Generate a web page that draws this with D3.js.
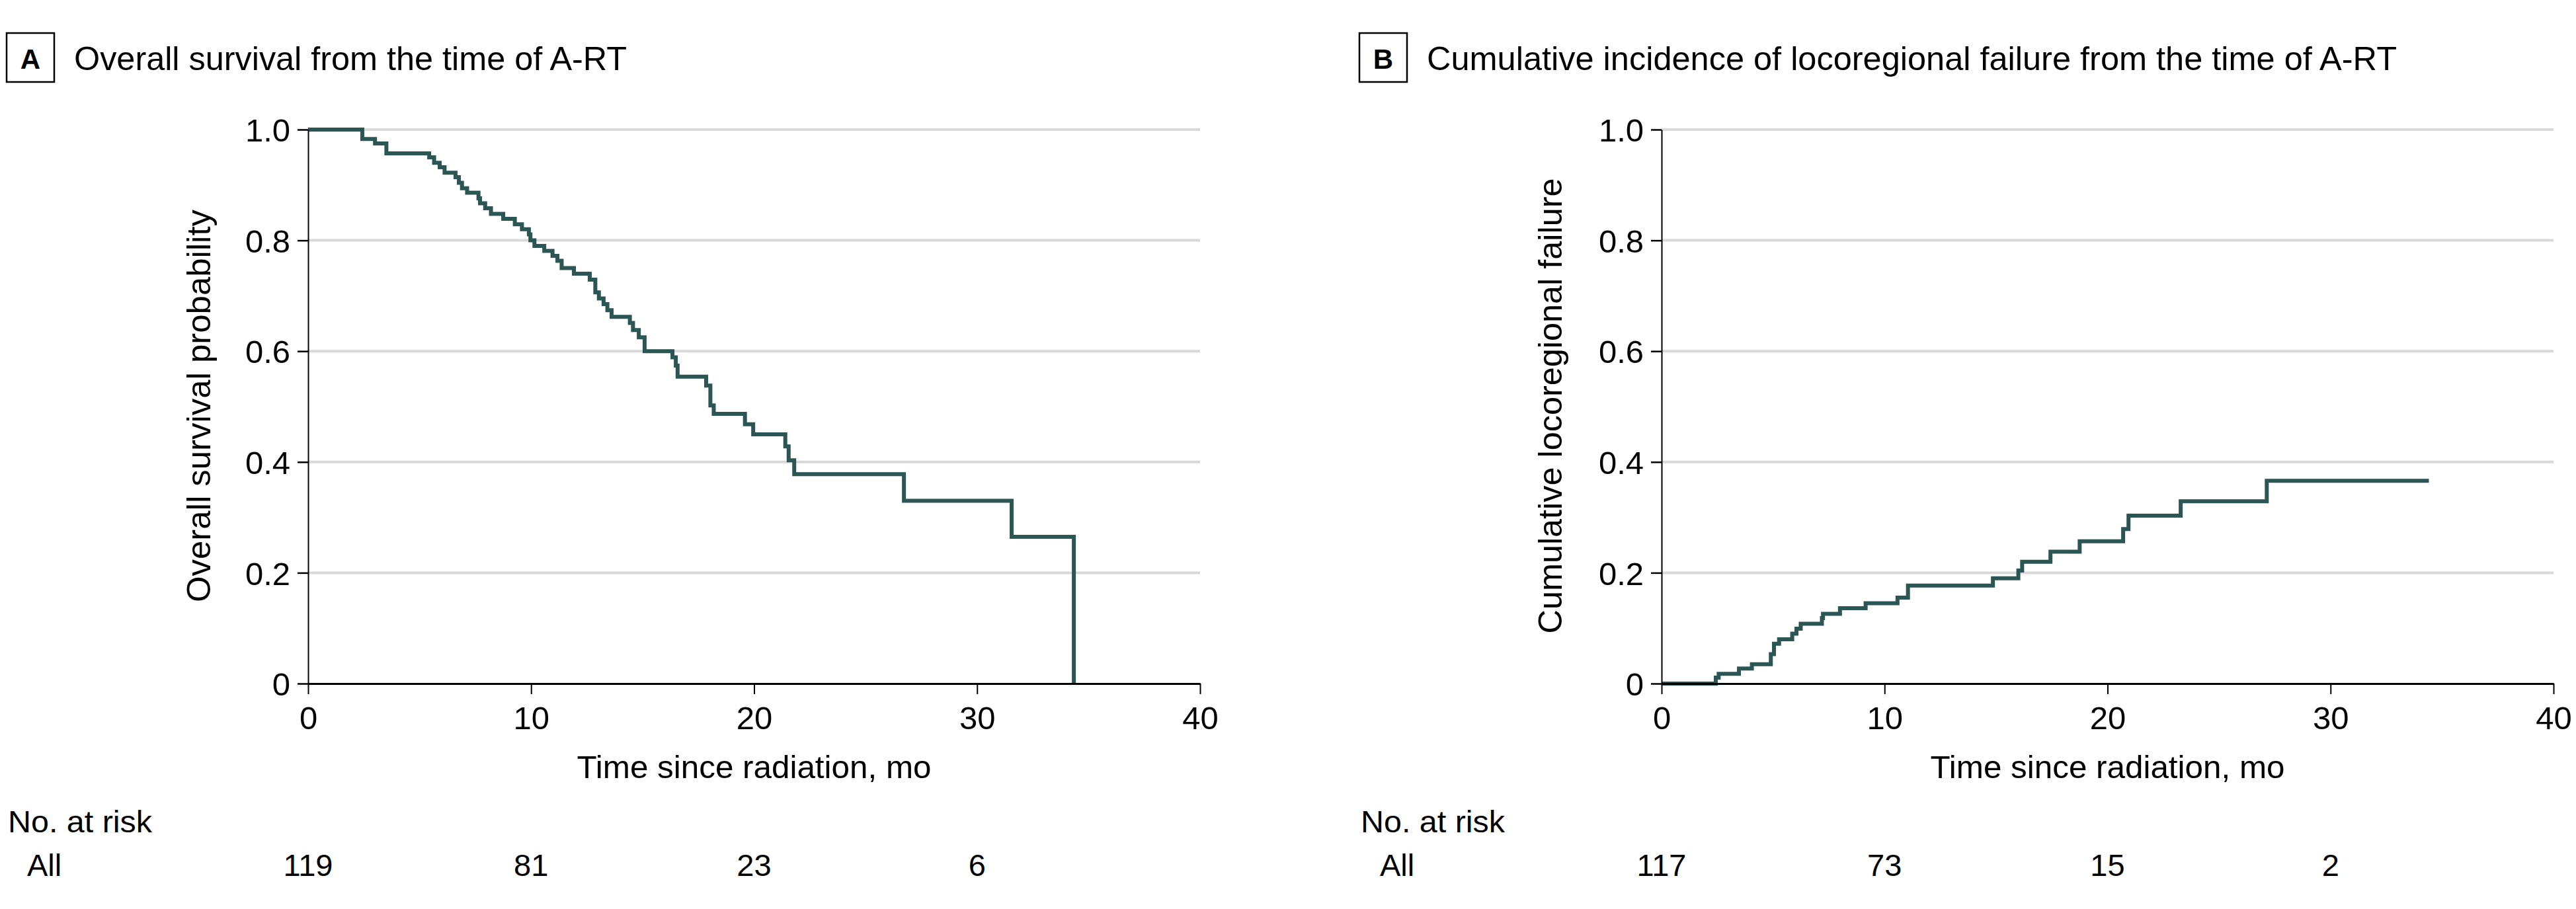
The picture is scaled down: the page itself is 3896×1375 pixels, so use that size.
<!DOCTYPE html>
<html>
<head>
<meta charset="utf-8">
<script src="https://cdn.jsdelivr.net/npm/d3@7"></script>
<style>
  html, body { margin: 0; padding: 0; background: #fff; }
  svg { display: block; }
  text { font-family: "Liberation Sans", Arial, sans-serif; fill: #000; }
</style>
</head>
<body>
<script>
// ---------- DATA ----------
const timeTicks = [0, 10, 20, 30, 40];
const probTicks = [0, 0.2, 0.4, 0.6, 0.8, 1.0];

// Panel A: overall survival (Kaplan-Meier steps)
const survTimes = [0, 2.43, 3.0, 3.51, 5.43, 5.65, 5.9, 6.12, 6.61, 6.76, 6.9, 7.13, 7.64, 7.71, 7.94, 8.2, 8.75, 9.27, 9.59, 9.9, 9.97, 10.15, 10.59, 10.96, 11.18, 11.37, 11.92, 12.63, 12.88, 13.04, 13.25, 13.42, 13.61, 14.43, 14.57, 14.83, 15.09, 16.34, 16.49, 16.57, 17.85, 18.04, 18.19, 19.59, 19.96, 21.40, 21.55, 21.80, 26.72, 31.55, 34.34];
const survProb  = [1.0, 0.983, 0.975, 0.957, 0.950, 0.940, 0.932, 0.922, 0.914, 0.904, 0.894, 0.886, 0.876, 0.867, 0.858, 0.848, 0.839, 0.829, 0.820, 0.811, 0.800, 0.790, 0.781, 0.772, 0.763, 0.750, 0.740, 0.729, 0.706, 0.695, 0.685, 0.674, 0.662, 0.651, 0.638, 0.625, 0.600, 0.589, 0.574, 0.554, 0.538, 0.502, 0.487, 0.468, 0.450, 0.428, 0.403, 0.378, 0.330, 0.265, 0.0];

// Panel B: cumulative incidence of locoregional failure
const failTimes = [0, 2.43, 2.56, 3.47, 4.05, 4.9, 5.04, 5.27, 5.86, 6.05, 6.24, 7.19, 7.24, 8.0, 9.15, 10.58, 11.05, 14.86, 16.0, 16.17, 17.44, 18.75, 20.70, 20.94, 23.28, 27.14, 34.41];
const failProb  = [0, 0.0107, 0.0175, 0.027, 0.035, 0.053, 0.072, 0.080, 0.090, 0.099, 0.108, 0.118, 0.126, 0.136, 0.145, 0.155, 0.177, 0.190, 0.204, 0.220, 0.238, 0.257, 0.279, 0.303, 0.329, 0.366, 0.366];

const riskTimes = [0, 10, 20, 30];
const riskA = [119, 81, 23, 6];
const riskB = [117, 73, 15, 2];

const titleA = "Overall survival from the time of A-RT";
const titleB = "Cumulative incidence of locoregional failure from the time of A-RT";
const yLabelA = "Overall survival probability";
const yLabelB = "Cumulative locoregional failure";
const xLabel = "Time since radiation, mo";

// ---------- DRAW ----------
const W = 3896, H = 1375;
const svg = d3.select("body").append("svg").attr("width", W).attr("height", H);
svg.append("rect").attr("width", W).attr("height", H).attr("fill", "#fff");

const lineColor = "#2b5654";
const yScale = d3.scaleLinear().domain([0, 1]).range([1034, 196]);

function panel(opts) {
  const x = d3.scaleLinear().domain([0, 40]).range([opts.x0, opts.x0 + 1349]);
  const g = svg.append("g");

  // title box + letter
  g.append("rect").attr("x", opts.boxX).attr("y", 50).attr("width", 72).attr("height", 74)
    .attr("fill", "none").attr("stroke", "#000").attr("stroke-width", 2.5);
  g.append("text").attr("x", opts.boxX + 36).attr("y", 104).attr("text-anchor", "middle")
    .style("font-size", "42px").style("font-weight", "bold").text(opts.letter);
  g.append("text").attr("x", opts.titleX).attr("y", 106)
    .style("font-size", "50px")
    .attr("textLength", opts.titleLen).attr("lengthAdjust", "spacingAndGlyphs")
    .text(opts.title);

  // gridlines
  g.append("g").selectAll("line").data(probTicks.filter(d => d > 0)).join("line")
    .attr("x1", x(0)).attr("x2", x(40))
    .attr("y1", d => yScale(d)).attr("y2", d => yScale(d))
    .attr("stroke", "#d9d9d9").attr("stroke-width", 4);

  // curve
  const line = d3.line().x(d => x(d[0])).y(d => yScale(d[1])).curve(d3.curveStepAfter);
  g.append("path").datum(d3.zip(opts.times, opts.vals))
    .attr("d", line).attr("fill", "none").attr("stroke", lineColor)
    .attr("stroke-width", 6).attr("stroke-linejoin", "miter").attr("stroke-linecap", "butt");

  // y axis
  const ya = g.append("g").attr("transform", `translate(${x(0)},0)`)
    .call(d3.axisLeft(yScale).tickValues(probTicks).tickSize(16).tickSizeOuter(0).tickPadding(11)
      .tickFormat(d => d === 0 ? "0" : d3.format(".1f")(d)));
  ya.select(".domain").attr("stroke", "#000").attr("stroke-width", 2);
  ya.selectAll(".tick line").attr("stroke", "#000").attr("stroke-width", 2.5);
  ya.selectAll(".tick text").style("font-size", "49px").attr("dy", "0.36em")
    .style("font-family", '"Liberation Sans", Arial, sans-serif').attr("fill", "#000");

  // x axis
  const xa = g.append("g").attr("transform", `translate(0,${yScale(0)})`)
    .call(d3.axisBottom(x).tickValues(timeTicks).tickSize(16).tickSizeOuter(0).tickPadding(18));
  xa.select(".domain").attr("stroke", "#000").attr("stroke-width", 3);
  xa.selectAll(".tick line").attr("stroke", "#000").attr("stroke-width", 2);
  xa.selectAll(".tick text").style("font-size", "49px").attr("dy", "0.71em")
    .style("font-family", '"Liberation Sans", Arial, sans-serif').attr("fill", "#000");

  // axis labels
  g.append("text").attr("x", (x(0) + x(40)) / 2).attr("y", 1177).attr("text-anchor", "middle")
    .style("font-size", "49px")
    .attr("textLength", 536).attr("lengthAdjust", "spacingAndGlyphs").text(xLabel);
  g.append("text").attr("transform", `translate(${opts.yLabX},614) rotate(-90)`)
    .attr("text-anchor", "middle").style("font-size", "50px")
    .attr("textLength", opts.yLabLen).attr("lengthAdjust", "spacingAndGlyphs")
    .text(opts.yLabel);

  // number at risk
  g.append("text").attr("x", opts.boxX + 2).attr("y", 1259).style("font-size", "47px")
    .attr("textLength", 218).attr("lengthAdjust", "spacingAndGlyphs").text("No. at risk");
  g.append("text").attr("x", opts.boxX + 31).attr("y", 1325).style("font-size", "47px").text("All");
  g.append("g").selectAll("text").data(d3.zip(riskTimes, opts.risk)).join("text")
    .attr("x", d => x(d[0])).attr("y", 1325).attr("text-anchor", "middle")
    .style("font-size", "47px").text(d => d[1]);
}

panel({ x0: 466, boxX: 10, letter: "A", titleX: 112, titleLen: 836, title: titleA,
        times: survTimes, vals: survProb, yLabX: 318, yLabLen: 594, yLabel: yLabelA, risk: riskA });
panel({ x0: 2513, boxX: 2056, letter: "B", titleX: 2158, titleLen: 1467, title: titleB,
        times: failTimes, vals: failProb, yLabX: 2362, yLabLen: 689, yLabel: yLabelB, risk: riskB });
</script>
</body>
</html>
